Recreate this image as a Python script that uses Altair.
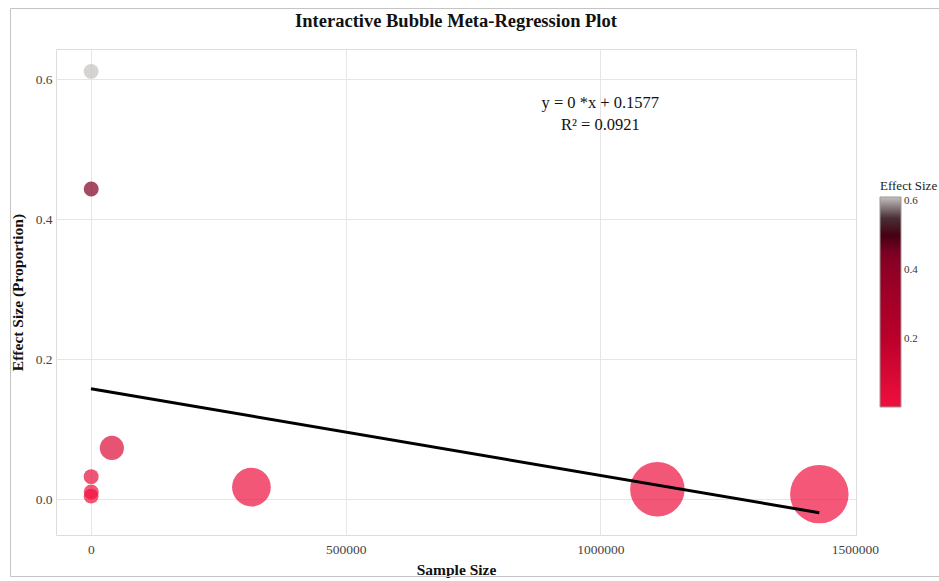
import altair as alt
import pandas as pd

# Study-level inputs: sample size and pooled effect (proportion)
sample_sizes = [300, 450, 41000, 350, 500, 250, 315000, 1112000, 1430000]
effect_sizes = [0.611, 0.443, 0.073, 0.032, 0.010, 0.004, 0.017, 0.014, 0.007]

# Fitted meta-regression line
intercept = 0.1577
slope = -1.24e-7
r_squared = 0.0921

x_ticks = [0, 500000, 1000000, 1500000]
y_ticks = [0.0, 0.2, 0.4, 0.6]

# Colour stops for the effect-size scale
color_stops = [0.004, 0.2, 0.4, 0.45, 0.53, 0.611]
color_range = ["#f0103f", "#bb002b", "#900024", "#7c0022", "#220008", "#c4c0c0"]

serif = "Liberation Serif"

studies = pd.DataFrame({"n": sample_sizes, "es": effect_sizes})
x_max = max(sample_sizes)
fit = pd.DataFrame({
    "n": [0, x_max],
    "es": [intercept, intercept + slope * x_max],
})
note = pd.DataFrame({
    "n": [1000000],
    "es": [0.566],
    "label": [f"y = 0 *x + {intercept}\nR\u00b2 = {r_squared}"],
})

x_scale = alt.Scale(domain=[-68700, 1502000], nice=False, zero=False)
y_scale = alt.Scale(domain=[-0.0514, 0.643], nice=False, zero=False)

x_axis = alt.Axis(
    title="Sample Size", values=x_ticks, format="d", labelFont=serif,
    labelFontSize=13.5, labelColor="#444444", labelPadding=7, ticks=False,
    domain=False, grid=True,
    gridColor=alt.condition("datum.value >= 1500000", alt.value("transparent"), alt.value("#e6e6e6")),
    titleFont=serif, titleFontSize=15.5, titleFontWeight="bold", titleColor="#111111",
    titlePadding=7,
)
y_axis = alt.Axis(
    title="Effect Size (Proportion)", values=y_ticks, format=".1f", labelFont=serif,
    labelFontSize=13.5, labelColor="#444444", labelPadding=4, ticks=False,
    domain=False, grid=True, gridColor="#e6e6e6",
    titleFont=serif, titleFontSize=15.5, titleFontWeight="bold", titleColor="#111111",
    titlePadding=10,
)

bubbles = alt.Chart(studies).mark_circle(fillOpacity=0.7, strokeOpacity=0, opacity=1).encode(
    x=alt.X("n:Q", scale=x_scale, axis=x_axis),
    y=alt.Y("es:Q", scale=y_scale, axis=y_axis),
    size=alt.Size("n:Q", scale=alt.Scale(type="pow", exponent=0.6, domain=[0, x_max], range=[200, 3420]), legend=None),
    color=alt.Color(
        "es:Q",
        scale=alt.Scale(domain=color_stops, range=color_range, interpolate="rgb"),
        legend=alt.Legend(
            title="Effect Size", orient="none", legendX=824, legendY=131,
            gradientLength=210, gradientThickness=21, gradientStrokeColor="#999999",
            gradientStrokeWidth=1, values=[0.2, 0.4, 0.6], format=".1f",
            labelFont=serif, labelFontSize=11, labelColor="#333333", labelOffset=3,
            titleFont=serif, titleFontSize=13, titleFontWeight="normal",
            titleColor="#222222", titlePadding=4,
        ),
    ),
)

line = alt.Chart(fit).mark_line(color="black", strokeWidth=3).encode(
    x=alt.X("n:Q", scale=x_scale),
    y=alt.Y("es:Q", scale=y_scale),
)

annotation = alt.Chart(note).mark_text(
    font=serif, fontSize=16.5, color="#111111", lineBreak="\n", lineHeight=22,
    align="center", baseline="middle",
).encode(
    x=alt.X("n:Q", scale=x_scale),
    y=alt.Y("es:Q", scale=y_scale),
    text="label:N",
)

frame = alt.Chart(note).mark_rect(fill=None, stroke="#c4c4c4", strokeWidth=1).encode(
    x=alt.value(-45.5), x2=alt.value(900), y=alt.value(-40.5), y2=alt.value(527.5),
)

chart = alt.layer(frame, bubbles, line, annotation).properties(
    width=800,
    height=486,
    title=alt.TitleParams(
        "Interactive Bubble Meta-Regression Plot", font=serif, fontSize=18.5,
        fontWeight="bold", color="#111111", anchor="middle", frame="group", offset=-22,
    ),
    autosize=alt.AutoSizeParams(type="none"),
    padding={"left": 56, "top": 49, "right": 83, "bottom": 46},
).configure_view(stroke=None).configure(background="white")

chart.save("out.html", embed_options={"renderer": "svg", "actions": False})
